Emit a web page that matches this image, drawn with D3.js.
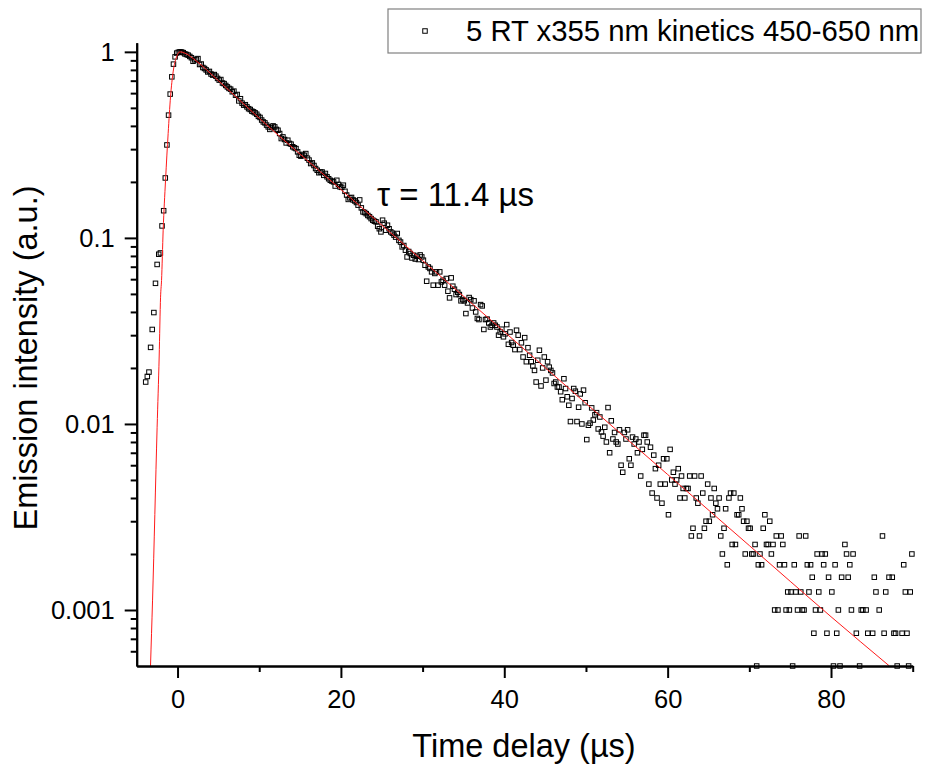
<!DOCTYPE html>
<html>
<head>
<meta charset="utf-8">
<script src="https://cdn.jsdelivr.net/npm/d3@7"></script>
<style>
  body { margin: 0; background: #fff; }
  svg { display: block; font-family: "Liberation Sans", Arial, sans-serif; }
  .axis path, .axis line { stroke: #000; stroke-width: 2; }
  .axis-title { font-size: 32.5px; fill: #000; }
</style>
</head>
<body>
<svg id="chart"></svg>
<script>
// Sampling of the kinetics trace (µs)
const sampleStep = 0.2;

// Rising edge, first sample at -3.9 µs
const riseStart = -3.9;
const riseIntensity = [
    0.0168, 0.018, 0.019, 0.0258, 0.0322, 0.0397, 0.057, 0.072, 0.0817, 0.083,
    0.116, 0.14, 0.21, 0.316, 0.457, 0.593, 0.734, 0.859, 0.94, 0.985
];

// Main decay, 0.1 - 29.9 µs
const decayStart = 0.1;
const decayIntensity = [
    0.995, 1.0, 0.998, 0.99, 0.975, 0.968, 0.96, 0.945, 0.93, 0.89,
    0.905, 0.912, 0.92, 0.855, 0.86, 0.824, 0.814, 0.8, 0.78, 0.785,
    0.76, 0.75, 0.755, 0.74, 0.72, 0.705, 0.71, 0.68, 0.675, 0.66,
    0.648, 0.636, 0.63, 0.61, 0.615, 0.585, 0.59, 0.545, 0.56, 0.53,
    0.517, 0.52, 0.506, 0.495, 0.49, 0.48, 0.476, 0.47, 0.462, 0.45,
    0.444, 0.43, 0.42, 0.415, 0.404, 0.395, 0.383, 0.392, 0.4, 0.395,
    0.383, 0.379, 0.364, 0.342, 0.349, 0.338, 0.324, 0.335, 0.322, 0.319,
    0.309, 0.305, 0.302, 0.29, 0.278, 0.275, 0.281, 0.278, 0.284, 0.268,
    0.262, 0.251, 0.253, 0.245, 0.236, 0.231, 0.224, 0.226, 0.226, 0.217,
    0.222, 0.213, 0.208, 0.204, 0.202, 0.2, 0.19, 0.204, 0.194, 0.188,
    0.187, 0.192, 0.178, 0.17, 0.161, 0.164, 0.165, 0.16, 0.158, 0.155,
    0.15, 0.16, 0.145, 0.138, 0.137, 0.135, 0.132, 0.13, 0.127, 0.1245,
    0.123, 0.122, 0.1156, 0.112, 0.1077, 0.1245, 0.12, 0.11, 0.117, 0.112,
    0.1077, 0.106, 0.1035, 0.101, 0.1056, 0.097, 0.095, 0.0895, 0.091, 0.0859,
    0.079, 0.0845, 0.0824, 0.078, 0.0807, 0.077, 0.0797, 0.0765, 0.081, 0.079
];

// Noisier part, 30.1 - 51.9 µs
const midStart = 30.1;
const midIntensity = [
    0.0759, 0.0713, 0.0585, 0.0698, 0.0685, 0.0657, 0.0557, 0.0644, 0.0657, 0.0557,
    0.0657, 0.058, 0.0592, 0.0557, 0.0605, 0.0517, 0.0476, 0.061, 0.055, 0.053,
    0.0496, 0.051, 0.0496, 0.0459, 0.0466, 0.0459, 0.0392, 0.0447, 0.0478, 0.0466,
    0.042, 0.0459, 0.04, 0.0369, 0.0364, 0.0438, 0.0431, 0.0322, 0.0364, 0.0366,
    0.0349, 0.0332, 0.0339, 0.0349, 0.0339, 0.0332, 0.03, 0.0312, 0.0323, 0.0294,
    0.0305, 0.0342, 0.0268, 0.0312, 0.0274, 0.0265, 0.0251, 0.0319, 0.03, 0.0251,
    0.0273, 0.0229, 0.0291, 0.0216, 0.0257, 0.0234, 0.0216, 0.0205, 0.0194, 0.0168,
    0.022, 0.0249, 0.016, 0.02, 0.0229, 0.0172, 0.0216, 0.0202, 0.0194, 0.0188,
    0.0165, 0.0168, 0.0158, 0.0158, 0.0149, 0.0135, 0.0175, 0.0155, 0.014, 0.0126,
    0.0103, 0.0137, 0.0155, 0.015, 0.0103, 0.0123, 0.0145, 0.01, 0.0152, 0.013,
    0.00824, 0.00984, 0.0101, 0.0122, 0.0105, 0.0112, 0.0115, 0.0094, 0.0109, 0.00906
];

// Tail down to the noise floor, 52.1 - 89.9 µs (0 = no signal, not drawn)
const tailStart = 52.1;
const tailIntensity = [
    0.0086, 0.0096, 0.008, 0.01225, 0.007, 0.0104, 0.0083, 0.009, 0.008, 0.0078,
    0.0093, 0.006, 0.0055, 0.009, 0.0083, 0.0093, 0.0065, 0.006, 0.0085, 0.0078,
    0.0083, 0.007, 0.008, 0.00525, 0.0073, 0.0087, 0.0087, 0.008, 0.00475, 0.0075,
    0.00425, 0.0068, 0.00575, 0.004, 0.006, 0.00475, 0.00375, 0.0065, 0.00475, 0.0065,
    0.00325, 0.0073, 0.005, 0.0055, 0.00475, 0.005, 0.00575, 0.004, 0.00525, 0.0045,
    0.004, 0.0045, 0.0045, 0.00525, 0.0025, 0.00275, 0.00525, 0.004, 0.00375, 0.0025,
    0.00525, 0.00425, 0.00275, 0.003, 0.00475, 0.003, 0.004, 0.00325, 0.0045, 0.00375,
    0.0035, 0.004, 0.0025, 0.002, 0.00275, 0.0035, 0.00175, 0.004, 0.00425, 0.00225,
    0.00425, 0.00225, 0.00325, 0.00325, 0.004, 0.0035, 0.003, 0.002, 0.003, 0.00275,
    0.00275, 0.002, 0.002, 0.00225, 0.0005, 0.00175, 0.002, 0.00175, 0.00275, 0.00325,
    0.00225, 0.00225, 0.003, 0.002, 0.00225, 0.001, 0.0025, 0.001, 0.00175, 0.0025,
    0.00225, 0.00175, 0.001, 0.00125, 0.001, 0.00125, 0.0005, 0.00175, 0.00125, 0.001,
    0.0025, 0.00125, 0.001, 0.001, 0.0025, 0.00175, 0.00125, 0.00175, 0.0015, 0.00075,
    0.001, 0.002, 0.00125, 0.001, 0.002, 0.00175, 0.002, 0.00075, 0.0015, 0,
    0.00125, 0.0005, 0.00175, 0.00075, 0.001, 0.0005, 0.0015, 0, 0.00225, 0.002,
    0.0015, 0.00175, 0.001, 0.002, 0, 0.00075, 0, 0.0005, 0.001, 0.001,
    0, 0.001, 0.00075, 0, 0, 0.00075, 0.0015, 0.00125, 0, 0.001,
    0, 0.0025, 0.00075, 0.00125, 0, 0.0015, 0, 0.0015, 0.00075, 0.00075,
    0.0005, 0, 0, 0.00075, 0.00175, 0.00125, 0.00075, 0.0005, 0.00125, 0.002
];

// Fitted curve (red line)
const fitTime = [-3.31, -3.06, -2.5, -2.25, -2.08, -1.96, -1.76, -1.47, -1.15, -0.86, -0.54, -0.12, 0.28, 1.1, 2, 5, 10, 20, 30, 40, 50, 60, 70, 80, 87.15];
const fitIntensity = [0.0005, 0.00113, 0.0096, 0.0229, 0.048, 0.059, 0.11, 0.204, 0.364, 0.573, 0.78, 0.94, 1.0, 0.975, 0.915, 0.7, 0.44, 0.182, 0.0755, 0.0313, 0.0129, 0.00535, 0.00222, 0.00092, 0.0005];

// Axes
const xDomain = [-5, 90];
const yDomain = [0.0005, 1.12];
const xTickValues = [0, 20, 40, 60, 80];
const xMinorTicks = [10, 30, 50, 70, 90];
const yTickValues = [0.001, 0.01, 0.1, 1];
const yTickLabels = ["0.001", "0.01", "0.1", "1"];

const xTitle = "Time delay (µs)";
const yTitle = "Emission intensity (a.u.)";
const tauLabel = "τ = 11.4 µs";
const legendLabel = "5 RT x355 nm kinetics 450-650 nm";

class DecayPlot {
    constructor(_config) {
        this.config = {
            parentElement: _config.parentElement,
            containerWidth: _config.containerWidth || 925,
            containerHeight: _config.containerHeight || 765,
            margin: { top: 42.7, right: 12.3, bottom: 99, left: 136.7 }
        }
        this.initVis();
    }

    initVis() {
        let vis = this;

        vis.width = vis.config.containerWidth - vis.config.margin.left - vis.config.margin.right;
        vis.height = vis.config.containerHeight - vis.config.margin.top - vis.config.margin.bottom;

        vis.svg = d3.select(vis.config.parentElement)
            .attr('width', vis.config.containerWidth)
            .attr('height', vis.config.containerHeight);

        vis.chart = vis.svg.append('g')
            .attr('transform', `translate(${vis.config.margin.left},${vis.config.margin.top})`);

        vis.xScale = d3.scaleLinear().domain(xDomain).range([0, vis.width]);
        vis.yScale = d3.scaleLog().domain(yDomain).range([vis.height, 0]);

        // minor ticks: 2..9 of every decade inside the domain
        vis.yMinor = [];
        for (let e = -4; e <= 0; e++) {
            for (let k = 2; k <= 9; k++) {
                const v = k * Math.pow(10, e);
                if (v > yDomain[0] && v < yDomain[1]) vis.yMinor.push(v);
            }
        }

        vis.xAxis = d3.axisBottom(vis.xScale)
            .tickValues(xTickValues)
            .tickFormat(d3.format('d'))
            .tickSize(12).tickSizeOuter(0).tickPadding(12);
        vis.xAxisMinor = d3.axisBottom(vis.xScale)
            .tickValues(xMinorTicks)
            .tickFormat('').tickSize(6).tickSizeOuter(0);

        vis.yAxis = d3.axisLeft(vis.yScale)
            .tickValues(yTickValues)
            .tickFormat((d, i) => yTickLabels[i])
            .tickSize(12).tickSizeOuter(0).tickPadding(10);
        vis.yAxisMinor = d3.axisLeft(vis.yScale)
            .tickValues(vis.yMinor)
            .tickFormat('').tickSize(6).tickSizeOuter(0);

        vis.svg.append('defs').append('clipPath')
            .attr('id', 'plot-clip')
            .append('rect')
            .attr('x', 0).attr('y', 0)
            .attr('width', vis.width).attr('height', vis.height);

        vis.pointsG = vis.chart.append('g');
        vis.fitPath = vis.chart.append('path')
            .attr('clip-path', 'url(#plot-clip)')
            .attr('fill', 'none')
            .attr('stroke', '#ff1a1a')
            .attr('stroke-width', 1);

        vis.xAxisG = vis.chart.append('g').attr('class', 'axis x-axis')
            .attr('transform', `translate(0,${vis.height})`);
        vis.xAxisMinorG = vis.chart.append('g').attr('class', 'axis x-axis')
            .attr('transform', `translate(0,${vis.height})`);
        vis.yAxisG = vis.chart.append('g').attr('class', 'axis y-axis');
        vis.yAxisMinorG = vis.chart.append('g').attr('class', 'axis y-axis');
    }

    updateVis() {
        let vis = this;

        // Put all segments on one time axis
        vis.points = [];
        const addSegment = (start, values) => {
            values.forEach((v, i) => {
                const t = +(start + i * sampleStep).toFixed(2);
                if (v >= yDomain[0]) vis.points.push({ time: t, val: v });
            });
        };
        addSegment(riseStart, riseIntensity);
        addSegment(decayStart, decayIntensity);
        addSegment(midStart, midIntensity);
        addSegment(tailStart, tailIntensity);

        vis.fitData = fitTime.map((t, i) => ({ time: t, val: fitIntensity[i] }));

        vis.renderVis();
    }

    renderVis() {
        let vis = this;

        vis.pointsG.selectAll('rect')
            .data(vis.points)
            .join('rect')
                .attr('x', d => vis.xScale(d.time) - 2.25)
                .attr('y', d => vis.yScale(d.val) - 2.25)
                .attr('width', 4.5)
                .attr('height', 4.5)
                .attr('fill', 'none')
                .attr('stroke', '#000')
                .attr('stroke-width', 1);

        const line = d3.line()
            .x(d => vis.xScale(d.time))
            .y(d => vis.yScale(d.val))
            .curve(d3.curveMonotoneX);
        vis.fitPath.attr('d', line(vis.fitData));

        vis.xAxisG.call(vis.xAxis);
        vis.xAxisMinorG.call(vis.xAxisMinor);
        vis.yAxisG.call(vis.yAxis);
        vis.yAxisMinorG.call(vis.yAxisMinor);

        // Tick label font, set on the text itself so the axis defaults don't win
        vis.chart.selectAll('.axis text')
            .attr('font-family', '"Liberation Sans", Arial, sans-serif')
            .attr('fill', '#000')
            .style('font-size', '25.5px');

        // Axis titles
        vis.svg.append('text')
            .attr('class', 'axis-title')
            .attr('x', 524).attr('y', 757)
            .attr('text-anchor', 'middle')
            .text(xTitle);

        vis.svg.append('text')
            .attr('class', 'axis-title')
            .attr('transform', 'translate(37,358) rotate(-90)')
            .attr('text-anchor', 'middle')
            .text(yTitle);

        // Lifetime annotation
        vis.svg.append('text')
            .attr('x', 377).attr('y', 206)
            .attr('font-size', 33)
            .text(tauLabel);

        // Legend
        const legend = vis.svg.append('g');
        legend.append('rect')
            .attr('x', 388).attr('y', 9)
            .attr('width', 533).attr('height', 44)
            .attr('fill', '#fff')
            .attr('stroke', '#808080')
            .attr('stroke-width', 1.2);
        legend.append('rect')
            .attr('x', 422.75).attr('y', 28.75)
            .attr('width', 4.5).attr('height', 4.5)
            .attr('fill', 'none')
            .attr('stroke', '#000')
            .attr('stroke-width', 1);
        legend.append('text')
            .attr('x', 466).attr('y', 41)
            .attr('font-size', 29.3)
            .text(legendLabel);
    }
}

const plot = new DecayPlot({ parentElement: '#chart' });
plot.updateVis();
</script>
</body>
</html>
